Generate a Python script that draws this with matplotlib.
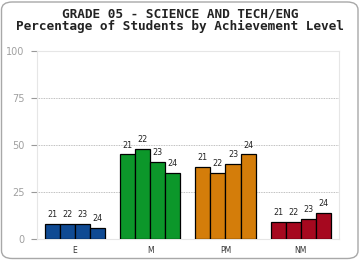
import matplotlib
matplotlib.use('Agg')
import matplotlib.pyplot as plt
from matplotlib.patches import FancyBboxPatch
import numpy as np

# data
categories = ['E', 'M', 'PM', 'NM']
years = ['21', '22', '23', '24']
values = [
    [8, 8, 8, 6],      # E
    [45, 48, 41, 35],  # M
    [38.5, 35, 40, 45],  # PM
    [9, 9, 11, 14],    # NM
]
colors = ['#0f4a93', '#0c972a', '#d47d0a', '#a6081f']
yticks = [0, 25, 50, 75, 100]

fig = plt.figure(figsize=(3.6, 2.6), dpi=100)
fig.patch.set_facecolor('white')

# rounded outer frame
frame = FancyBboxPatch((1.5 / 360, 1.5 / 260), 356.5 / 360, 256.5 / 260,
                       boxstyle='round,pad=0,rounding_size=0.03',
                       transform=fig.transFigure, facecolor='none',
                       edgecolor='#a8a8a8', linewidth=1.0)
fig.patches.append(frame)

ax = fig.add_axes([37 / 360, 20.7 / 260, 301.5 / 360, 188.6 / 260])

width = 0.2
x = np.arange(len(categories))
for i, cat in enumerate(categories):
    for j, yr in enumerate(years):
        xpos = x[i] + (j - 1.5) * width
        v = values[i][j]
        ax.bar(xpos, v, width=width, color=colors[i], edgecolor='black',
               linewidth=0.9, zorder=3)
        ax.annotate(yr, (xpos, v), xytext=(0, 3.5), textcoords='offset points',
                    ha='center', va='bottom', fontsize=5.8, color='#222222')

ax.set_xlim(-0.5, 3.5)
ax.set_ylim(0, 100)
ax.set_yticks(yticks)
ax.set_yticklabels([str(t) for t in yticks], fontsize=7, color='#a0a0a0')
ax.set_xticks(x)
ax.set_xticklabels(categories, fontsize=5.5, color='#333333')
ax.tick_params(axis='y', length=4, color='#999999', pad=5)
ax.tick_params(axis='x', length=0, pad=5)

for yv in [25, 50, 75]:
    ax.axhline(yv, color='#aaaaaa', linestyle=(0, (1, 1)), linewidth=0.6, zorder=1)

for side in ['left', 'right', 'top', 'bottom']:
    ax.spines[side].set_color('#e6e6e6')
    ax.spines[side].set_linewidth(0.8)

fig.text(0.5, 1 - 14 / 260, 'GRADE 05 - SCIENCE AND TECH/ENG',
         ha='center', va='center', fontsize=9.2, fontweight='bold',
         family='DejaVu Sans Mono', color='#222222')
fig.text(0.5, 1 - 26 / 260, 'Percentage of Students by Achievement Level',
         ha='center', va='center', fontsize=9.2, fontweight='bold',
         family='DejaVu Sans Mono', color='#222222')

fig.savefig('out.png', dpi=100)
